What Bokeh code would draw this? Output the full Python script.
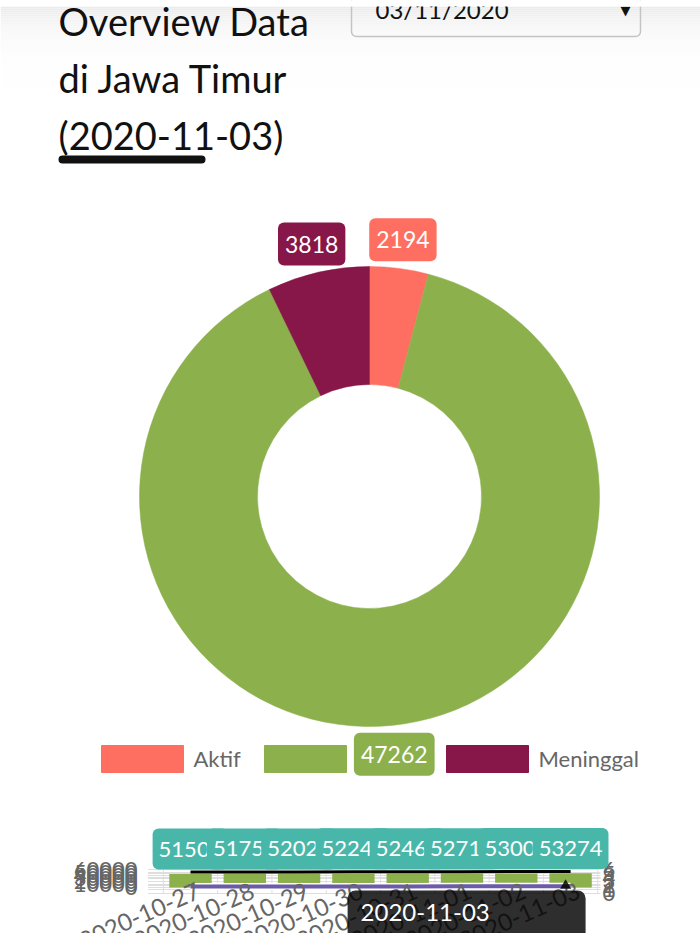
import numpy as np
from bokeh.plotting import figure
from bokeh.models import Range1d
from bokeh.core.properties import value
from bokeh.embed import file_html
from bokeh.resources import INLINE

# ---------------- data ----------------
categories = ["Aktif", "Sembuh", "Meninggal"]
case_values = [2194, 47262, 3818]
report_date = "2020-11-03"
picker_text = "03/11/2020"
title_lines = ["Overview Data", "di Jawa Timur", "(" + report_date + ")"]

dates = ["2020-10-27", "2020-10-28", "2020-10-29", "2020-10-30",
         "2020-10-31", "2020-11-01", "2020-11-02", "2020-11-03"]
total_series = [51502, 51756, 52021, 52245, 52467, 52712, 53004, 53274]
sembuh_series = [45210, 45580, 45930, 46240, 46520, 46790, 47030, 47262]
meninggal_series = [3660, 3683, 3706, 3728, 3750, 3772, 3796, 3818]
left_ticks = [0, 10000, 20000, 30000, 40000, 50000, 60000]
right_ticks = [0, 1, 2, 3, 4, 5, 6]

# ---------------- style ----------------
colors = ["#FF6F61", "#8BB04C", "#861748"]
teal = "#48B7AA"
line_purple = "#6B5BA8"
FONT = value("Lato")

W, H = 700, 933


def Y(sy):
    # screen row -> data y of the main (pixel-like) range
    return H - sy


p = figure(width=W, height=H, x_range=Range1d(0, W), y_range=Range1d(0, H),
           output_backend="svg", toolbar_location=None, min_border=0,
           x_axis_location=None, y_axis_location=None,
           outline_line_color=None, background_fill_color="white",
           border_fill_color="white")
p.grid.visible = False

# header shadow gradient
ys = np.arange(6, 90, 2)
shade = [int(round(255 - 20 * np.exp(-(y - 6) / 22.0))) for y in ys]
p.quad(left=0, right=W, top=[Y(y) for y in ys], bottom=[Y(y + 2) for y in ys],
       fill_color=["#%02x%02x%02x" % (s, s, s) for s in shade], line_color=None)

# date picker box
p.quad(left=351, right=640, top=Y(-10), bottom=Y(36), fill_alpha=0,
       line_color="#c4c4c4", line_width=1.5, border_radius=5)
p.text(x=[375], y=[Y(9)], text=[picker_text], text_font=FONT, text_font_size="24px",
       text_color="#111111", text_baseline="middle")
p.text(x=[625], y=[Y(10)], text=["\u25BC"], text_font=value("DejaVu Sans"),
       text_font_size="13px", text_color="#111111", text_align="center",
       text_baseline="middle")
# fixed white header strip on top
p.quad(left=0, right=W, top=Y(-5), bottom=Y(6), fill_color="white", line_color=None)

# title
p.text(x=[58, 58, 58], y=[Y(20), Y(77), Y(134)], text=title_lines, text_font=FONT,
       text_font_size="38px", text_color="#111111", text_baseline="middle")
p.line(x=[62, 201], y=[Y(159), Y(159)], line_width=8, line_cap="round",
       line_color="#111111")

# ---------------- donut ----------------
cx, cy, r_in, r_out = 369, Y(496), 112, 230
total = float(sum(case_values))
cum = np.cumsum([0] + case_values)
start = np.pi / 2 - 2 * np.pi * cum[:-1] / total
end = np.pi / 2 - 2 * np.pi * cum[1:] / total
p.annular_wedge(x=cx, y=cy, inner_radius=r_in, outer_radius=r_out,
                start_angle=start, end_angle=end, direction="clock",
                fill_color=colors, line_color=colors, line_width=0.5)

# legend
leg_x = [101, 264, 446]
p.quad(left=leg_x, right=[x + 82 for x in leg_x], top=Y(745), bottom=Y(772),
       fill_color=colors, line_color=colors)
p.text(x=[x + 92 for x in leg_x], y=Y(758), text=categories, text_font=FONT,
       text_font_size="22px", text_color="#666666", text_baseline="middle")

# value labels around donut
mid = (start + end) / 2
lx = cx + 259 * np.cos(mid)
ly = cy + 259 * np.sin(mid)
for i in range(len(categories)):
    p.text(x=[lx[i]], y=[ly[i]], text=[str(case_values[i])], text_align="center",
           text_baseline="middle", text_color="white", text_font=FONT,
           text_font_size="23px", background_fill_color=colors[i],
           padding=(7, 13), border_radius=6)

# ---------------- bottom mini chart ----------------
cx0, cstep = 190.0, 54.3
p.extra_x_ranges["mx"] = Range1d((0 - cx0) / cstep, (W - cx0) / cstep)
zero_sy, px_per = 887.0, 18.0 / 60000
p.extra_y_ranges["my"] = Range1d((zero_sy - H) / px_per, (zero_sy - 0) / px_per)
r_zero, r_px = 893.0, 4.0
p.extra_y_ranges["ry"] = Range1d((r_zero - H) / r_px, (r_zero - 0) / r_px)

idx = list(range(len(dates)))
gx0, gx1 = -0.78, len(dates) - 0.45

# grid
p.segment(x0=gx0, x1=gx1, y0=left_ticks, y1=left_ticks, x_range_name="mx",
          y_range_name="my", line_color="#dedede", line_width=1)
p.segment(x0=gx0, x1=gx1, y0=right_ticks, y1=right_ticks, x_range_name="mx",
          y_range_name="ry", line_color="#dedede", line_width=1)
bx = [i - 0.5 for i in range(len(dates) + 1)]
p.segment(x0=bx, x1=bx, y0=right_ticks[0], y1=right_ticks[-1], x_range_name="mx",
          y_range_name="ry", line_color="#dedede", line_width=1)

# bars and lines
p.vbar(x=idx, top=sembuh_series, bottom=0, width=0.78, fill_color=colors[1],
       line_color=None, x_range_name="mx", y_range_name="my")
p.line(x=idx, y=meninggal_series, line_color="white", line_width=7,
       x_range_name="mx", y_range_name="my")
p.line(x=idx, y=meninggal_series, line_color=line_purple, line_width=4,
       x_range_name="mx", y_range_name="my")
p.line(x=idx, y=total_series, line_color="black", line_width=3,
       x_range_name="mx", y_range_name="my")

# axis tick labels
p.text(x=137, y=left_ticks, text=[str(t) for t in left_ticks], text_align="right",
       text_baseline="middle", text_font=FONT, text_font_size="22px",
       text_color="#666666", y_range_name="my")
p.text(x=602, y=right_ticks, text=[str(t) for t in right_ticks], text_align="left",
       text_baseline="middle", text_font=FONT, text_font_size="22px",
       text_color="#666666", y_range_name="ry")
p.text(x=idx, y=Y(889), text=dates, angle=np.deg2rad(24), text_align="right",
       text_baseline="middle", text_font=FONT, text_font_size="24px",
       text_color="#666666", x_range_name="mx", x_offset=8)

# data labels of the total series
for i in idx:
    p.text(x=[i], y=[total_series[i]], text=[str(total_series[i])], y_offset=-23,
           text_align="center", text_baseline="middle", text_color="white",
           text_font=FONT, text_font_size="22px", background_fill_color=teal,
           padding=(6, 13), border_radius=6, x_range_name="mx", y_range_name="my")

# tooltip for the last date
tip_x = cx0 + cstep * (len(dates) - 1)
p.quad(left=tip_x - 223, right=tip_x + 15, top=Y(890), bottom=Y(950),
       fill_color="black", fill_alpha=0.82, line_color=None, border_radius=8)
p.scatter(x=[tip_x - 5], y=[Y(885)], marker="triangle", size=11,
          fill_color="black", fill_alpha=0.82, line_color=None)
p.text(x=[tip_x - 210], y=[Y(912)], text=[dates[-1]], text_color="white",
       text_font=FONT, text_font_size="24px", text_baseline="middle")

open("out.html", "w").write(file_html(p, INLINE))
